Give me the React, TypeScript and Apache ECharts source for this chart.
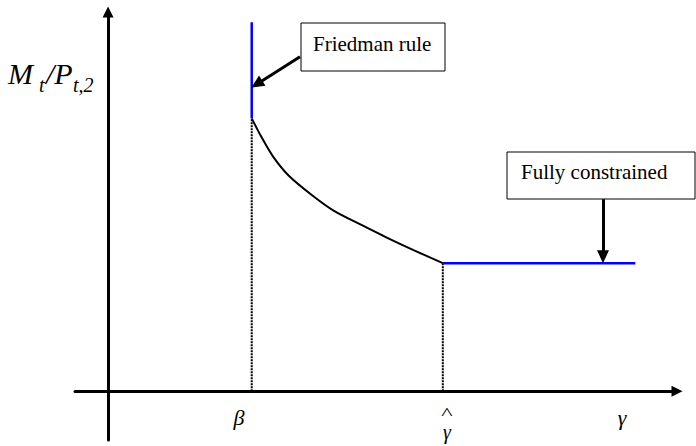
import React, { useEffect, useRef } from 'react';
import * as echarts from 'echarts';

// Curve between the Friedman rule and the fully constrained region
const curveX = [1, 1.07, 1.15, 1.26, 1.42, 1.57, 1.76, 1.94, 2.13, 2.33];
const curveY = [2.13, 1.98, 1.83, 1.68, 1.53, 1.41, 1.3, 1.2, 1.1, 1.0];
const beta = 1;
const gammaHat = 2.33;
const friedmanTop = 2.88;
const constrainedEnd = 3.67;
const xTickLabels = ['β', 'γ', 'γ'];
const hatMark = '^';
const yAxisName = ['M', 't', '/P', 't,2'];
const annotations = ['Friedman rule', 'Fully constrained'];

const SERIF = '"Liberation Serif", "Times New Roman", Times, serif';

function txt(x: number, y: number, text: string, size: number, italic: boolean, align = 'left') {
  return {
    type: 'text',
    x,
    y,
    z: 11,
    style: {
      text,
      font: `${italic ? 'italic ' : ''}${size}px ${SERIF}`,
      fill: '#000',
      align,
      verticalAlign: 'middle',
    },
  };
}

export default function App() {
  const ref = useRef<HTMLDivElement>(null);
  useEffect(() => {
    document.body.style.margin = '0';
    const chart = echarts.init(ref.current!, null, { renderer: 'svg' });
    const curve = curveX.map((x, i) => [x, curveY[i]]);
    const yStart = curveY[0];
    const yEnd = curveY[curveY.length - 1];
    const axisCommon = {
      type: 'value' as const,
      axisLine: {
        show: true,
        onZero: true,
        symbol: ['none', 'triangle'],
        symbolSize: [11, 11],
        lineStyle: { color: '#000', width: 3 },
      },
      axisTick: { show: false },
      axisLabel: { show: false },
      splitLine: { show: false },
    };
    const lineBase = { type: 'line' as const, showSymbol: false, symbol: 'none', silent: true };
    const hat: any = txt(447, 414, hatMark, 16, false, 'center');
    hat.scaleX = 1.5;
    chart.setOption({
      animation: false,
      grid: { left: 75, right: 19, top: 12, bottom: 6, containLabel: false },
      xAxis: { ...axisCommon, min: -0.23, max: 3.96 },
      yAxis: { ...axisCommon, min: -0.38, max: 2.96 },
      series: [
        {
          ...lineBase,
          data: [[beta, 0], [beta, yStart]],
          lineStyle: { color: '#000', width: 2, type: [2, 1] },
        },
        {
          ...lineBase,
          data: [[gammaHat, 0], [gammaHat, yEnd]],
          lineStyle: { color: '#000', width: 2, type: [2, 1] },
        },
        {
          ...lineBase,
          data: curve,
          smooth: 0.3,
          lineStyle: { color: '#000', width: 2 },
          markLine: {
            silent: true,
            symbol: ['none', 'triangle'],
            symbolSize: [12, 13],
            label: { show: false },
            lineStyle: { color: '#000', width: 3, type: 'solid' },
            data: [
              [{ coord: [1.336, 2.611] }, { coord: [1.035, 2.397] }],
              [{ coord: [3.445, 1.499] }, { coord: [3.445, 1.05] }],
            ],
          },
        },
        {
          ...lineBase,
          data: [[beta, yStart], [beta, friedmanTop]],
          lineStyle: { color: '#0000ff', width: 2.5 },
        },
        {
          ...lineBase,
          data: [[gammaHat, yEnd], [constrainedEnd, yEnd]],
          lineStyle: { color: '#0000ff', width: 2.5 },
        },
      ],
      graphic: [
        {
          type: 'rect',
          shape: { x: 301, y: 23, width: 144, height: 48 },
          style: { fill: '#fff', stroke: '#000', lineWidth: 1 },
          z: 10,
        },
        txt(313, 44, annotations[0], 21, false),
        {
          type: 'rect',
          shape: { x: 507, y: 152, width: 188, height: 47 },
          style: { fill: '#fff', stroke: '#000', lineWidth: 1 },
          z: 10,
        },
        txt(521, 172, annotations[1], 21, false),
        // y axis name
        txt(8, 73, yAxisName[0], 30, true),
        txt(39, 85, yAxisName[1], 20, true),
        txt(46, 73, yAxisName[2], 30, true),
        txt(73, 85, yAxisName[3], 20, true),
        // x tick labels
        txt(239, 417, xTickLabels[0], 22, true, 'center'),
        hat,
        txt(447, 432, xTickLabels[1], 20, true, 'center'),
        txt(622, 417, xTickLabels[2], 22, true, 'center'),
      ],
    });
    return () => chart.dispose();
  }, []);
  return <div ref={ref} style={{ position: 'absolute', left: 0, top: 0, width: 696, height: 446 }} />;
}
